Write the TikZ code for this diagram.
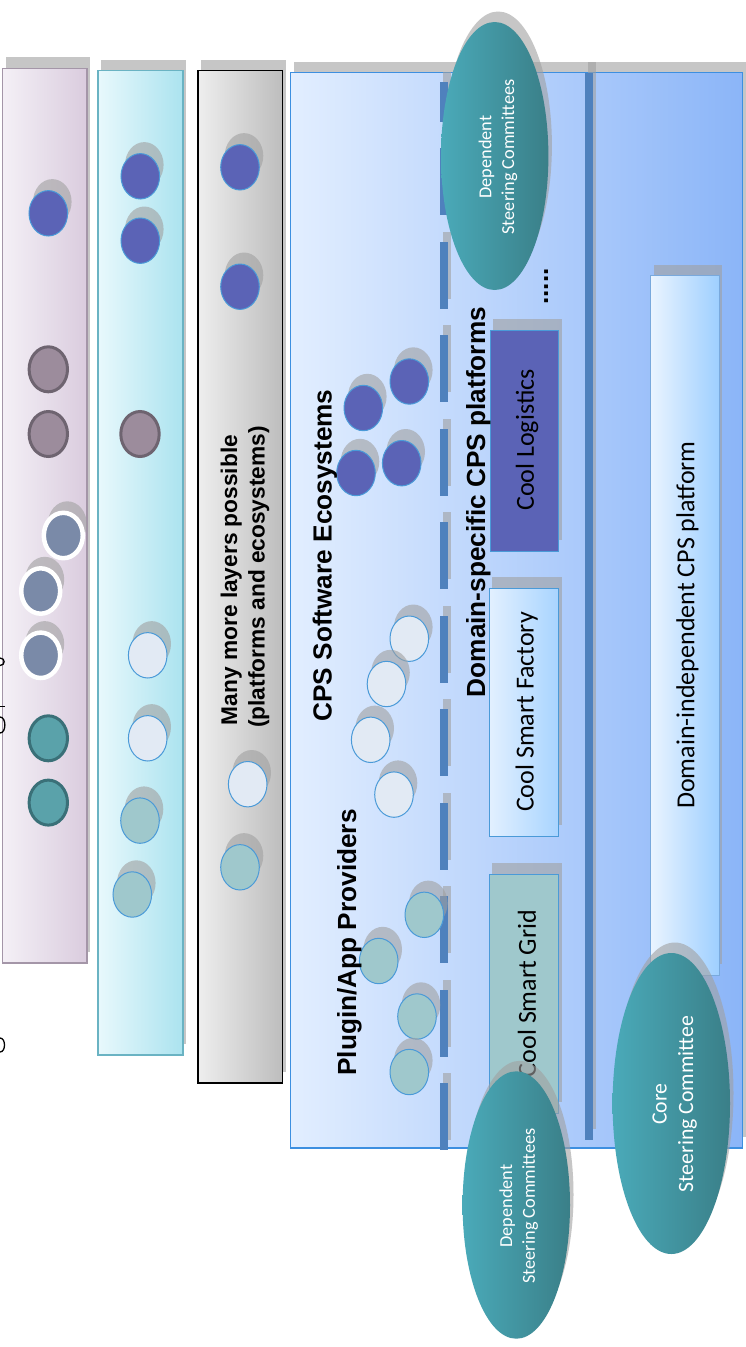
\documentclass[tikz,border=0pt]{standalone}
\usepackage{fontspec}
\setmainfont{Carlito}
\newfontfamily\arialfont{Liberation Sans}
\usetikzlibrary{shapes.geometric,shadows}
\definecolor{colAL}{HTML}{F4F0F6}\definecolor{colAR}{HTML}{DACCDE}\definecolor{colAD}{HTML}{A496A8}
\definecolor{colBL}{HTML}{E8F8FC}\definecolor{colBR}{HTML}{ABE3EF}\definecolor{colBD}{HTML}{6AB3C3}
\definecolor{colCL}{HTML}{EEEEEE}\definecolor{colCR}{HTML}{BDBDBD}
\definecolor{colDL}{HTML}{E2EEFF}\definecolor{colDR}{HTML}{8BB5F8}\definecolor{colDD}{HTML}{3D8FE0}
\definecolor{barblue}{HTML}{4F81BD}
\definecolor{indigoball}{HTML}{5B63B6}
\definecolor{ballrim}{HTML}{4A9AD8}
\definecolor{mauveball}{HTML}{9C8C9C}\definecolor{mauverim}{HTML}{6E6470}
\definecolor{slateball}{HTML}{7A8AA8}
\definecolor{tealball}{HTML}{5AA2AA}\definecolor{tealrim}{HTML}{3A7078}
\definecolor{paleball}{HTML}{E2EAF4}
\definecolor{greytealball}{HTML}{9FC8CC}
\definecolor{factL}{HTML}{E2F0FF}\definecolor{factR}{HTML}{A8D4FF}
\definecolor{diL}{HTML}{EAF4FF}\definecolor{diR}{HTML}{9ECFFF}\definecolor{diD}{HTML}{79A9DD}
\definecolor{commL}{HTML}{4AAAB9}\definecolor{commR}{HTML}{3A7F88}
\definecolor{shadowgrey}{HTML}{A0A0A0}
\begin{document}
\begin{tikzpicture}[x=1pt,y=-1pt,
 bshad/.style={drop shadow={shadow xshift=3pt,shadow yshift=11pt,fill=shadowgrey,opacity=.6}},
 cshad/.style={drop shadow={shadow xshift=4pt,shadow yshift=11.5pt,fill=shadowgrey,opacity=.6}},
 colbox/.style={rectangle,inner sep=0pt,bshad},
 ball/.style={ellipse,inner sep=0pt,minimum width=38.6pt,minimum height=45.4pt},
 blueball/.style={ball,cshad,fill=indigoball,draw=ballrim,line width=1pt},
 mauvedot/.style={ball,minimum width=38.4pt,minimum height=45pt,fill=mauveball,draw=mauverim,line width=3pt},
 slatedot/.style={ball,cshad,minimum width=39pt,minimum height=45.4pt,fill=slateball,draw=white,line width=4.5pt},
 tealdot/.style={ball,minimum width=38.4pt,minimum height=45pt,fill=tealball,draw=tealrim,line width=3pt},
 paledot/.style={ball,cshad,fill=paleball,draw=ballrim,line width=1pt},
 gtdot/.style={ball,cshad,fill=greytealball,draw=ballrim,line width=1pt},
 platbox/.style={rectangle,inner sep=0pt,bshad,draw=ballrim,line width=1pt},
 head/.style={rotate=90,anchor=base,inner sep=0pt,font=\arialfont\bfseries\fontsize{26.2}{30}\selectfont},
 manyhead/.style={rotate=90,anchor=base,inner sep=0pt,font=\arialfont\bfseries\fontsize{22.7}{27}\selectfont},
 cal/.style={rotate=90,inner sep=0pt,font=\fontsize{26}{30}\selectfont},
 committee/.style={ellipse,inner sep=0pt,left color=commL,right color=commR,draw=none,
   drop shadow={shadow xshift=3.5pt,shadow yshift=10.5pt,fill=shadowgrey,opacity=.6}},
 ctext/.style={rotate=90,inner sep=0pt,align=center,text=white},
 frag/.style={line width=1.3pt,black},
 dashshadow/.style={fill=shadowgrey,opacity=.6}
]
\useasboundingbox (0,0) rectangle (746,1347);
\fill[white] (0,0) rectangle (746,1347);

% ---- columns ----
\node[colbox,minimum width=84.3pt,minimum height=894.7pt,left color=colAL,right color=colAR,draw=colAD,line width=1.2pt] (col1) at (44.85,515.65) {};
\node[colbox,minimum width=85pt,minimum height=984.3pt,left color=colBL,right color=colBR,draw=colBD,line width=1.2pt] (col2) at (140.5,562.85) {};
\node[colbox,minimum width=84.7pt,minimum height=1012.3pt,left color=colCL,right color=colCR,draw=black,line width=1.4pt] (col3) at (240.35,576.85) {};
\node[colbox,minimum width=452pt,minimum height=1075.3pt,left color=colDL,right color=colDR,draw=colDD,line width=1.2pt] (col4) at (516.7,610.35) {};

% ---- dashed separator ----
\fill[dashshadow] (443,71.5) rectangle (451,112);
\fill[barblue] (440,81.5) rectangle (448,122);
\foreach \k in {0,...,10}{
  \pgfmathsetmacro{\ys}{148+93.5*\k}
  \pgfmathsetmacro{\ye}{\ys+67}
  \fill[dashshadow] (443,\ys-10) rectangle (451,\ye-10);
  \fill[barblue] (440,\ys) rectangle (448,\ye);
}
% ---- solid separator ----
\fill[dashshadow] (588,61.7) rectangle (596.3,1129);
\fill[barblue] (585,72.7) rectangle (593.3,1140);

% ---- platform boxes ----
\node[platbox,minimum width=68.6pt,minimum height=699.5pt,left color=diL,right color=diR,draw=diD] (dip) at (685,625.25) {};
\node[cal] (diptext) at (687.5,625) {Domain-independent CPS platform};

\node[platbox,minimum width=68.7pt,minimum height=221pt,fill=indigoball] (logi) at (524.35,440.5) {};
\node[cal] (logitext) at (527,440) {Cool Logistics};
\node[platbox,minimum width=69.4pt,minimum height=248.4pt,left color=factL,right color=factR] (fact) at (524,712.2) {};
\node[cal] (facttext) at (526.7,712) {Cool Smart Factory};
\node[platbox,minimum width=69.4pt,minimum height=239pt,fill=greytealball] (grid) at (524,993.5) {};
\node[cal] (gridtext) at (527,993.5) {Cool Smart Grid};

\node[rotate=90,anchor=base,inner sep=0pt,font=\arialfont\bfseries\fontsize{26.2}{30}\selectfont] (dots) at (548,286.5) {.....};

% ---- column 1 balls ----
\node[blueball] (a1) at (48.3,213.3) {};
\node[mauvedot] (a2) at (48.3,369.3) {};
\node[mauvedot] (a3) at (48.3,434) {};
\node[slatedot] (a4) at (63.3,535.5) {};
\node[slatedot] (a5) at (40.7,591) {};
\node[slatedot] (a6) at (40.7,655.3) {};
\node[tealdot] (a7) at (48.3,738.3) {};
\node[tealdot] (a8) at (48.3,802.6) {};

% ---- column 2 balls ----
\node[blueball] (b1) at (140.3,176.3) {};
\node[blueball] (b2) at (140.3,240.7) {};
\node[mauvedot] (b3) at (140,434) {};
\node[paledot] (b4) at (147.7,655.3) {};
\node[paledot] (b5) at (147.7,738.3) {};
\node[gtdot] (b6) at (140,820.6) {};
\node[gtdot] (b7) at (132.3,894.5) {};

% ---- column 3 balls ----
\node[blueball] (c1) at (240,167.3) {};
\node[blueball] (c2) at (240,286.7) {};
\node[paledot] (c3) at (247.7,784.2) {};
\node[gtdot] (c4) at (240,867.3) {};
\node[manyhead] (many1) at (237,580) {Many more layers possible};
\node[manyhead] (many2) at (264.5,577) {(platforms and ecosystems)};

% ---- column 4 balls ----
\node[blueball] (d1) at (409.3,381.5) {};
\node[blueball] (d2) at (363.3,408) {};
\node[blueball] (d3) at (401.7,463.2) {};
\node[blueball] (d4) at (356,473) {};
\node[paledot] (d5) at (409.3,638.7) {};
\node[paledot] (d6) at (386.5,684) {};
\node[paledot] (d7) at (370.7,739.8) {};
\node[paledot] (d8) at (394,794.6) {};
\node[gtdot] (d9) at (424.3,914.8) {};
\node[gtdot] (d10) at (378.7,961) {};
\node[gtdot] (d11) at (417,1016.5) {};
\node[gtdot] (d12) at (409.3,1072) {};

% ---- headings ----
\node[head] (eco) at (331.7,555.5) {CPS Software Ecosystems};
\node[head] (dsp) at (485,502) {Domain-specific CPS platforms};
\node[head] (plug) at (356,942.5) {Plugin/App Providers};

% ---- steering committees ----
\node[committee,minimum width=107.4pt,minimum height=268pt] (dsc1) at (494.7,156) {};
\node[ctext,font=\fontsize{18.3}{22.7}\selectfont] (dsc1t) at (498,157) {Dependent\\Steering Committees};
\node[committee,minimum width=107.4pt,minimum height=267.4pt] (dsc2) at (516.3,1205) {};
\node[ctext,font=\fontsize{18.3}{22.7}\selectfont] (dsc2t) at (518.7,1206) {Dependent\\Steering Committees};
\node[committee,minimum width=117.4pt,minimum height=301pt] (core) at (671.3,1103.5) {};
\node[ctext,font=\fontsize{21.8}{26.6}\selectfont] (coret) at (674.7,1104) {Core\\Steering Committee};

% ---- clipped glyph fragments at the left edge ----
\draw[frag] (0,658) .. controls (5.5,658) and (5.5,665.5) .. (0,665.5);
\draw[frag] (0,706.7) -- (5,706.7);
\draw[frag] (0,717) .. controls (6.5,717) and (6.5,733) .. (0,733);
\draw[frag] (0,1038) .. controls (6,1038) and (6,1052) .. (0,1052);
\end{tikzpicture}
\end{document}
